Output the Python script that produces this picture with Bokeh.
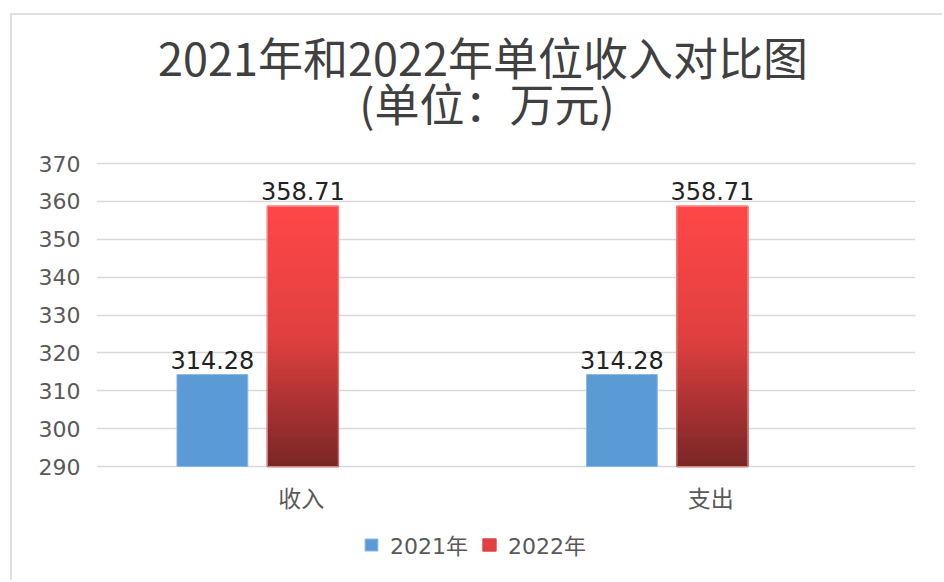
from bokeh.plotting import figure
from bokeh.models import (ColumnDataSource, FactorRange, Range1d, FixedTicker,
                          Legend, LegendItem)
from bokeh.transform import dodge
from bokeh.core.properties import value
from bokeh.embed import file_html
from bokeh.resources import INLINE

# ---- data ----
categories = ["收入", "支出"]
series_names = ["2021年", "2022年"]
values_2021 = [314.28, 314.28]
values_2022 = [358.71, 358.71]
y_ticks = [290, 300, 310, 320, 330, 340, 350, 360, 370]
title_lines = ["2021年和2022年单位收入对比图", "(单位：万元)"]

Y_MIN, Y_MAX = 290, 370
BLUE = "#5B9BD5"
RED_TOP = (255, 71, 71)
RED_MID = (224, 64, 64)
RED_BOT = (122, 38, 38)
CJK = "Noto Sans CJK SC"
NUM = "'DejaVu Sans', 'Noto Sans CJK SC'"

OFF_A, OFF_B, BAR_W = -0.217, 0.004, 0.173

# layout (page pixels): value axis from 290 at y=466 to 370 at y=163
CANVAS_TOP, CANVAS_BOTTOM = 15, 582
AX_BOTTOM_PX, AX_TOP_PX = 466, 163
PX = (AX_BOTTOM_PX - AX_TOP_PX) / (Y_MAX - Y_MIN)
def y_at(py):
    return Y_MIN + (AX_BOTTOM_PX - py) / PX

p = figure(x_range=FactorRange(*categories),
           y_range=Range1d(y_at(CANVAS_BOTTOM), y_at(CANVAS_TOP)),
           width=932, height=567, output_backend="svg", toolbar_location=None,
           min_border_left=84, min_border_right=29, min_border_top=0, min_border_bottom=0,
           margin=(13, 0, 0, 10))
p.styles = {"border-left": "2px solid #E0E0E0", "border-top": "2px solid #E0E0E0"}
p.outline_line_color = None
p.background_fill_color = "white"
p.border_fill_color = "white"

# grid
p.xgrid.grid_line_color = None
p.ygrid.grid_line_color = "#D9D9D9"
p.ygrid.grid_line_width = 1.6
p.yaxis.ticker = FixedTicker(ticks=y_ticks)
p.ygrid.ticker = FixedTicker(ticks=y_ticks)
p.xaxis.visible = False

# value axis
p.yaxis.axis_line_color = None
p.yaxis.major_tick_line_color = None
p.yaxis.minor_tick_line_color = None
p.yaxis.major_tick_out = 0
p.yaxis.major_tick_in = 0
p.yaxis.major_label_standoff = 16
p.yaxis.major_label_text_font = "DejaVu Sans"
p.yaxis.major_label_text_font_size = "22px"
p.yaxis.major_label_text_color = "#595959"

# blue bars
src_a = ColumnDataSource(dict(cat=categories, v=values_2021,
                              lbl=[f"{v:.2f}" for v in values_2021]))
r_a = p.vbar(x=dodge("cat", OFF_A, range=p.x_range), top="v", bottom=Y_MIN, width=BAR_W,
             source=src_a, fill_color=BLUE, line_color="#8DB8E3", line_width=1)

# red gradient bars (stacked thin slices computed from the values)
N = 90
def grad(t):  # t: 0 bottom -> 1 top
    if t >= 0.5:
        u = (t - 0.5) / 0.5
        c = [RED_MID[i] + (RED_TOP[i] - RED_MID[i]) * u for i in range(3)]
    else:
        u = t / 0.5
        c = [RED_BOT[i] + (RED_MID[i] - RED_BOT[i]) * u for i in range(3)]
    return "#%02x%02x%02x" % tuple(int(round(x)) for x in c)

sc, sb, st, scol = [], [], [], []
for cat, v in zip(categories, values_2022):
    for k in range(N):
        sc.append(cat)
        sb.append(Y_MIN + (v - Y_MIN) * k / N)
        st.append(Y_MIN + (v - Y_MIN) * (k + 1) / N)
        scol.append(grad((k + 0.5) / N))
src_b = ColumnDataSource(dict(cat=sc, b=sb, t=st, c=scol))
r_b = p.vbar(x=dodge("cat", OFF_B, range=p.x_range), top="t", bottom="b", width=BAR_W,
             source=src_b, fill_color="c", line_color="c", line_width=1.6)

src_b_lbl = ColumnDataSource(dict(cat=categories, v=values_2022,
                                  lbl=[f"{v:.2f}" for v in values_2022]))
# thin light outline of the red bars
p.vbar(x=dodge("cat", OFF_B, range=p.x_range), top="v", bottom=Y_MIN, width=BAR_W,
       source=src_b_lbl, fill_color=None, line_color="#F29A9A", line_width=1, line_alpha=0.8)

# data labels
for src, off in ((src_a, OFF_A), (src_b_lbl, OFF_B)):
    p.text(x=dodge("cat", off, range=p.x_range), y="v", text="lbl", source=src,
           text_align="center", text_baseline="bottom", y_offset=-6,
           text_font=value("DejaVu Sans"), text_font_size="24px", text_color="#222222")

# category labels (below the 290 line)
src_cat = ColumnDataSource(dict(cat=categories, y=[Y_MIN] * len(categories)))
p.text(x="cat", y="y", text="cat", source=src_cat, y_offset=30,
       text_align="center", text_baseline="middle",
       text_font=value(CJK), text_font_size="23px", text_color="#595959")

# title
src_title = ColumnDataSource(dict(x=[1.0, 1.0], y=[y_at(56), y_at(102)], t=title_lines,
                                  xo=[-23, -19]))
p.text(x="x", y="y", text="t", x_offset="xo", source=src_title,
       text_align="center", text_baseline="middle",
       text_font=value(CJK), text_font_size="45px", text_color="#404040")

# legend
legend = Legend(items=[LegendItem(label=series_names[0], renderers=[r_a], index=0),
                       LegendItem(label=series_names[1], renderers=[r_b], index=N // 2)],
                location=(267, CANVAS_BOTTOM - 560), orientation="horizontal",
                glyph_width=16, glyph_height=15, label_height=15, label_standoff=11,
                spacing=13, padding=0, margin=0,
                label_text_font=NUM, label_text_font_size="22px", label_text_color="#595959",
                border_line_color=None, background_fill_alpha=0)
p.add_layout(legend, "center")

open("out.html", "w").write(file_html(p, INLINE))
